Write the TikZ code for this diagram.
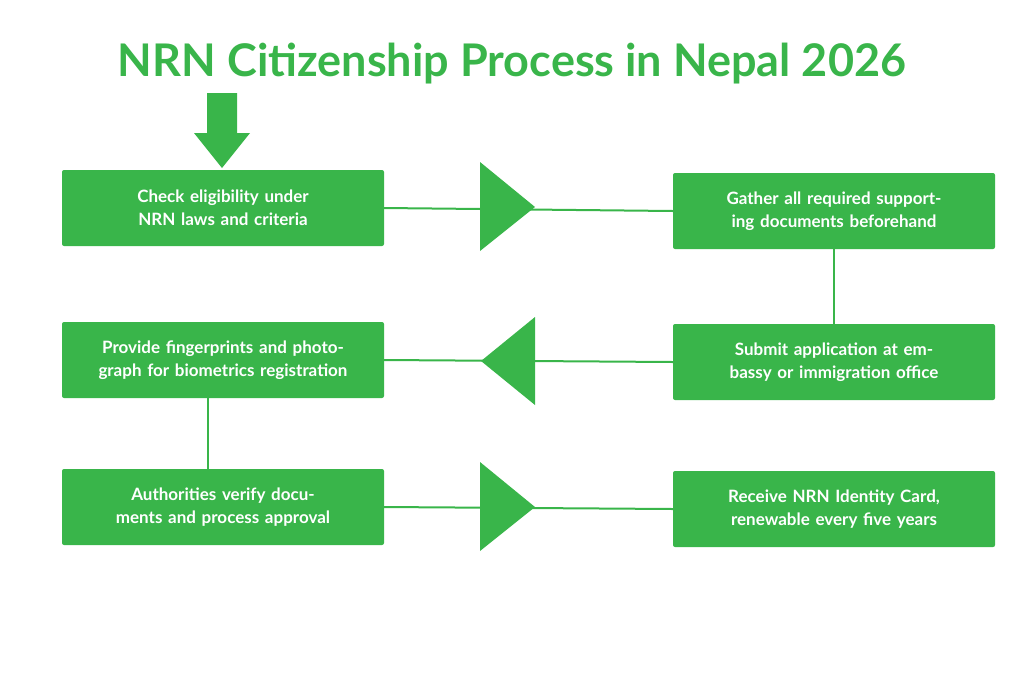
\documentclass[tikz,border=0pt]{standalone}
\usepackage{fontspec}
\setmainfont{Lato}
\usetikzlibrary{positioning}
\definecolor{leaf}{HTML}{39B54A}
\tikzset{
	stepbox/.style={fill=leaf, rounded corners=2pt, minimum width=322pt, minimum height=76pt,
		text=white, font=\bfseries\fontsize{17}{23}\selectfont, align=center, text width=300pt},
	link/.style={draw=leaf, line width=2pt},
	pointer/.style={fill=leaf}
}
\begin{document}
\begin{tikzpicture}[x=1pt, y=-1pt]
	\useasboundingbox (0, 0) rectangle (1024, 683);

	\node[text=leaf, font=\bfseries\fontsize{45}{50}\selectfont] (title) at (512, 64) {NRN Citizenship Process in Nepal 2026};

	\fill[leaf] (207, 93) -- (237, 93) -- (237, 133) -- (250, 133) -- (222, 168) -- (194, 133) -- (207, 133) -- cycle;

	\node[stepbox] (check) at (223, 208) {Check eligibility under NRN laws and criteria};
	\node[stepbox] (gather) at (834, 211) {Gather all required supporting documents beforehand};
	\node[stepbox] (submit) at (834, 362) {Submit application at embassy or immigration office};
	\node[stepbox] (finger) at (223, 360) {Provide fingerprints and photograph for biometrics registration};
	\node[stepbox] (verify) at (223, 507) {Authorities verify documents and process approval};
	\node[stepbox] (card) at (834, 509) {Receive NRN Identity Card, renewable every five years};

	\draw[link] (check.east) -- (gather.west);
	\draw[link] (gather.south) -- (submit.north);
	\draw[link] (submit.west) -- (finger.east);
	\draw[link] ([xshift=-15pt]finger.south) -- ([xshift=-15pt]verify.north);
	\draw[link] (verify.east) -- (card.west);

	% triangles
	\fill[pointer] (480, 162) -- (535, 207) -- (480, 251) -- cycle;
	\fill[pointer] (535, 317) -- (481, 361) -- (535, 405) -- cycle;
	\fill[pointer] (480, 462) -- (535, 507) -- (480, 551) -- cycle;
\end{tikzpicture}
\end{document}
